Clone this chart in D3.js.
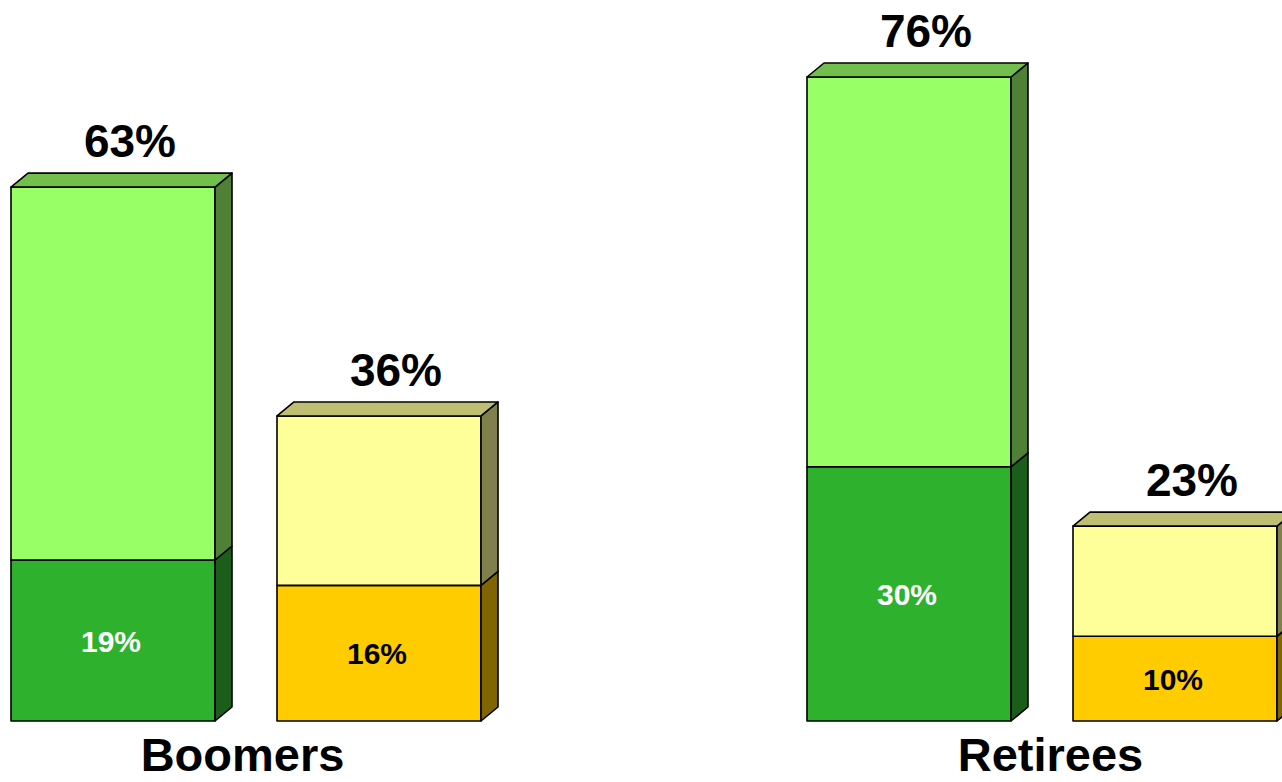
<!DOCTYPE html>
<html>
<head>
	<title>Boomers vs Retirees</title>
	<script src="https://d3js.org/d3.v7.min.js"></script>
	<style type="text/css">
		body { margin: 0; background: #fff; }
		svg { display: block; font-family: "Liberation Sans", Arial, sans-serif; font-weight: bold; }
	</style>
</head>
<body>
<div id="chart"></div>
<script type="text/javascript">
	// data
	var groups = ["Boomers", "Retirees"];
	var seriesKeys = ["green", "yellow"];
	var totalPct = [[63, 36], [76, 23]];   // full bar height
	var basePct = [[19, 16], [30, 10]];    // dark lower part

	var width = 1282,
	    height = 782,
	    depthX = 17,
	    depthY = 14;

	// front / top / side colours per series, lower and upper segment
	var colors = {
		green: {
			lower: { front: "#2eb22e", side: "#1b5e1b" },
			upper: { front: "#99ff66", side: "#4f8035", top: "#72bf4e" },
			lowerText: "#ffffff"
		},
		yellow: {
			lower: { front: "#ffcc00", side: "#806600" },
			upper: { front: "#ffff99", side: "#80804d", top: "#bfbf73" },
			lowerText: "#000000"
		}
	};

	var svg = d3.select("#chart")
	    .append("svg")
	    .attr("width", width)
	    .attr("height", height);

	var x0 = d3.scaleBand()
	    .domain(groups)
	    .range([11, 11 + 796 * 2])
	    .padding(0);

	var x1 = d3.scaleBand()
	    .domain(seriesKeys)
	    .range([0, 470])
	    .paddingInner(62 / 266)
	    .paddingOuter(0);

	var y = d3.scaleLinear()
	    .domain([0, 76])
	    .range([721, 77]);

	var bars = [];
	groups.forEach(function(g, gi) {
		seriesKeys.forEach(function(s, si) {
			bars.push({ group: g, key: s, total: totalPct[gi][si], base: basePct[gi][si] });
		});
	});

	function sidePath(x, y0, y1) {
		return "M" + x + "," + y0 + "L" + (x + depthX) + "," + (y0 - depthY) +
		    "L" + (x + depthX) + "," + (y1 - depthY) + "L" + x + "," + y1 + "Z";
	}
	function topPath(x, w, yt) {
		return "M" + x + "," + yt + "L" + (x + depthX) + "," + (yt - depthY) +
		    "L" + (x + w + depthX) + "," + (yt - depthY) + "L" + (x + w) + "," + yt + "Z";
	}

	var bw = x1.bandwidth();

	var bar = svg.selectAll(".bar")
	    .data(bars)
	    .enter()
	    .append("g")
	    .attr("class", "bar")
	    .attr("transform", d => "translate(" + (x0(d.group) + x1(d.key)) + ",0)");

	bar.each(function(d) {
		var gEl = d3.select(this);
		var c = colors[d.key];
		var yb = y(0), ym = y(d.base), yt = y(d.total);

		// lower segment
		gEl.append("rect")
		    .attr("x", 0).attr("y", ym).attr("width", bw).attr("height", yb - ym)
		    .attr("fill", c.lower.front);
		gEl.append("path")
		    .attr("d", sidePath(bw, yb, ym))
		    .attr("fill", c.lower.side);

		// upper segment
		gEl.append("rect")
		    .attr("x", 0).attr("y", yt).attr("width", bw).attr("height", ym - yt)
		    .attr("fill", c.upper.front);
		gEl.append("path")
		    .attr("d", sidePath(bw, ym, yt))
		    .attr("fill", c.upper.side);
		gEl.append("path")
		    .attr("d", topPath(0, bw, yt))
		    .attr("fill", c.upper.top);

		gEl.selectAll("rect, path")
		    .attr("stroke", "#000")
		    .attr("stroke-width", 1.6)
		    .attr("stroke-linejoin", "round");

		// labels
		gEl.append("text")
		    .attr("x", bw / 2 - 2)
		    .attr("y", (yb + ym) / 2 + 11)
		    .attr("text-anchor", "middle")
		    .attr("font-size", 30)
		    .attr("fill", c.lowerText)
		    .text(d.base + "%");

		gEl.append("text")
		    .attr("x", bw / 2 + depthX)
		    .attr("y", yt - depthY - 16)
		    .attr("text-anchor", "middle")
		    .attr("font-size", 46)
		    .attr("fill", "#000")
		    .text(d.total + "%");
	});

	// group names
	svg.selectAll(".glabel")
	    .data(groups)
	    .enter()
	    .append("text")
	    .attr("class", "glabel")
	    .attr("x", d => x0(d) + (x1.range()[1] + depthX) / 2 - (d == "Boomers" ? 12 : 0))
	    .attr("y", 771)
	    .attr("text-anchor", "middle")
	    .attr("font-size", 47)
	    .attr("fill", "#000")
	    .text(d => d);
</script>
</body>
</html>
